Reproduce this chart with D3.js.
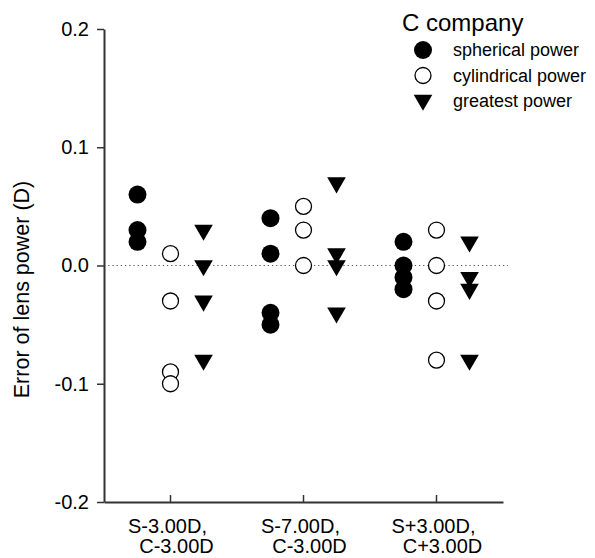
<!DOCTYPE html>
<html>
<head>
<meta charset="utf-8">
<script src="https://cdn.jsdelivr.net/npm/d3@7"></script>
<style>
  body { margin: 0; background: #fff; }
  text { font-family: Arial, "Liberation Sans", sans-serif; fill: #000; }
</style>
</head>
<body>
<svg id="chart" width="595" height="558"></svg>
<script>
const categories = ['S-3.00D, C-3.00D', 'S-7.00D, C-3.00D', 'S+3.00D, C+3.00D'];
const catLines = [['S-3.00D,', 'C-3.00D'], ['S-7.00D,', 'C-3.00D'], ['S+3.00D,', 'C+3.00D']];
const yTicks = [-0.2, -0.1, 0.0, 0.1, 0.2];

// one array per measured quantity, one inner list per lens condition
const spherical = [[0.06, 0.03, 0.02], [0.04, 0.01, -0.04, -0.05], [0.02, 0.00, -0.01, -0.02]];
const cylindrical = [[0.01, -0.03, -0.09, -0.10], [0.05, 0.03, 0.00], [0.03, 0.00, -0.03, -0.08]];
const greatest = [[0.03, 0.00, -0.03, -0.08], [0.07, 0.01, 0.00, -0.04], [0.02, -0.01, -0.02, -0.08]];

const seriesNames = ['spherical power', 'cylindrical power', 'greatest power'];

const svg = d3.select('#chart');

const x = d3.scaleBand().domain(categories).range([104, 503]);
const y = d3.scaleLinear().domain([-0.2, 0.2]).range([502, 29]);
const offset = d3.scalePoint().domain(seriesNames).range([-33, 33]);

const axisColor = '#333';

// zero reference line
svg.append('line')
  .attr('x1', x.range()[0]).attr('x2', 508)
  .attr('y1', y(0)).attr('y2', y(0))
  .attr('stroke', '#555').attr('stroke-width', 1)
  .attr('stroke-dasharray', '1.2,3');

// y axis
const yAxis = svg.append('g')
  .attr('transform', `translate(${x.range()[0]},0)`)
  .call(d3.axisLeft(y).tickValues(yTicks).tickFormat(d => d.toFixed(1)).tickSize(7).tickSizeOuter(0).tickPadding(8));
yAxis.select('.domain').attr('stroke', axisColor).attr('stroke-width', 2);
yAxis.selectAll('.tick line').attr('stroke', axisColor).attr('stroke-width', 1.5);
yAxis.selectAll('.tick text').attr('font-size', 20).attr('fill', '#222')
  .attr('font-family', 'Arial, "Liberation Sans", sans-serif');

// x axis, ticks pointing inward
const xAxis = svg.append('g')
  .attr('transform', `translate(0,${y(-0.2)})`)
  .call(d3.axisBottom(x).tickSize(-7).tickSizeOuter(0).tickFormat(''));
xAxis.select('.domain').attr('stroke', axisColor).attr('stroke-width', 2);
xAxis.selectAll('.tick line').attr('stroke', axisColor).attr('stroke-width', 1.5);

const xLabels = svg.append('g');
categories.forEach((c, i) => {
  const cx = x(c) + x.bandwidth() / 2;
  const t = xLabels.append('text').attr('font-size', 20).attr('text-anchor', 'middle').attr('fill', '#222');
  t.append('tspan').attr('x', cx - 3).attr('y', 533).text(catLines[i][0]);
  t.append('tspan').attr('x', cx + 6).attr('y', 553).text(catLines[i][1]);
});

// y axis title
svg.append('text')
  .attr('transform', `translate(29,${(y(0.2) + y(-0.2)) / 2 + 24}) rotate(-90)`)
  .attr('text-anchor', 'middle')
  .attr('font-size', 21.5)
  .text('Error of lens power (D)');

// markers
const circlePath = d3.symbol().type(d3.symbolCircle).size(Math.PI * 81)();
const openPath = d3.symbol().type(d3.symbolCircle).size(Math.PI * 8 * 8)();
const triPath = d3.symbol().type(d3.symbolTriangle).size(150)();

function flatten(series, name) {
  const out = [];
  series.forEach((vals, i) => vals.forEach(v => out.push({cat: categories[i], v, name})));
  return out;
}

const styles = {
  'spherical power': {path: circlePath, fill: '#000', stroke: 'none', rot: 0},
  'cylindrical power': {path: openPath, fill: '#fff', stroke: '#000', rot: 0},
  'greatest power': {path: triPath, fill: '#000', stroke: 'none', rot: 180}
};

[[spherical, seriesNames[0]], [cylindrical, seriesNames[1]], [greatest, seriesNames[2]]].forEach(([s, name]) => {
  const st = styles[name];
  svg.append('g').selectAll('path')
    .data(flatten(s, name))
    .join('path')
    .attr('d', st.path)
    .attr('transform', d => `translate(${x(d.cat) + x.bandwidth() / 2 + offset(name)},${y(d.v)}) rotate(${st.rot})`)
    .attr('fill', st.fill)
    .attr('stroke', st.stroke)
    .attr('stroke-width', 1.3);
});

// legend
const legend = svg.append('g');
legend.append('text').attr('x', 402).attr('y', 31).attr('font-size', 24).text('C company');
seriesNames.forEach((name, i) => {
  const st = styles[name];
  const ly = 50 + i * 25.5;
  legend.append('path')
    .attr('d', st.path)
    .attr('transform', `translate(423,${ly + (name === 'greatest power' ? -1 : 0)}) rotate(${st.rot})`)
    .attr('fill', st.fill).attr('stroke', st.stroke).attr('stroke-width', 1.3);
  legend.append('text').attr('x', 453).attr('y', ly + 6).attr('font-size', 18).text(name);
});
</script>
</body>
</html>
